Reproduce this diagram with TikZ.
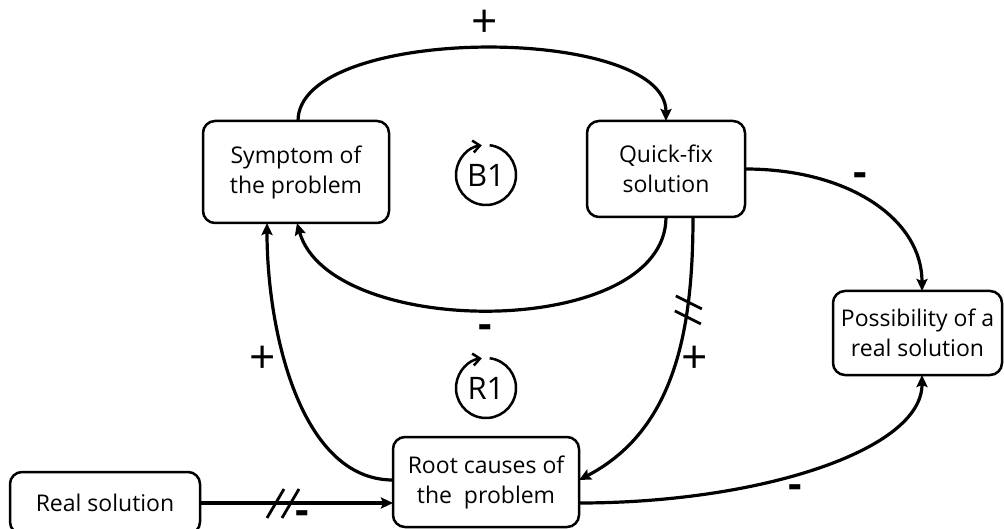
\documentclass[tikz,border=0pt]{standalone}
\usepackage{fontspec}
\setmainfont{Open Sans}
\usetikzlibrary{arrows.meta,calc}

\tikzset{
  box/.style={draw, line width=2.5pt, rounded corners=12pt, align=center,
    inner sep=0pt, outer sep=0pt, font=\fontsize{23}{30}\selectfont},
  link/.style={line width=3.2pt, -{Stealth[length=12pt,width=11pt,inset=2pt]}},
  polarity/.style={inner sep=0pt, font=\fontsize{46}{46}\selectfont},
  negpolarity/.style={inner sep=0pt, font=\fontsize{42}{42}\selectfont\bfseries},
  loopsym/.style={circle, inner sep=0pt, outer sep=0pt, minimum size=60pt,
    font=\fontsize{31}{31}\selectfont},
  looparrow/.style={line width=2.5pt, -{Straight Barb[length=7pt,width=12pt]}},
  delay/.style={line width=2.8pt}
}

\begin{document}
\begin{tikzpicture}[x=1pt,y=-1pt]
  \useasboundingbox (0,0) rectangle (1004,529);

  % variables
  \node[box, minimum width=186pt, minimum height=102pt] (sym)  at (296,172)   {Symptom of\\the problem};
  \node[box, minimum width=158pt, minimum height=96pt]  (fix)  at (666,169)   {Quick-fix\\solution};
  \node[box, minimum width=169pt, minimum height=84pt]  (poss) at (917.5,333) {Possibility of a\\real solution};
  \node[box, minimum width=186pt, minimum height=90pt]  (root) at (486,482)   {Root causes of\\the\ \ problem};
  \node[box, minimum width=190pt, minimum height=62pt]  (real) at (105,503)   {Real solution};

  % loop markers
  \node[loopsym] (b1) at (486,175) {B1};
  \node[loopsym] (r1) at (486,388) {R1};
  \draw[looparrow] (b1.83) arc[start angle=83, end angle=-262, radius=30pt];
  \draw[looparrow] (r1.83) arc[start angle=83, end angle=-262, radius=30pt];

  % balancing loop
  \draw[link] ($(sym.north)+(2,0)$) .. controls (298,24) and (666,24) .. (fix.north);
  \draw[link] (fix.south) .. controls (666,340) and (330,340) .. ($(sym.south)+(1,0)$);

  % reinforcing loop
  \draw[link] ($(root.west)+(0,-2)$) .. controls (300,480) and (267,330) .. ($(sym.south)+(-29,0)$);
  \draw[link] ($(fix.south)+(27,0)$) .. controls (693,330) and (675,430) .. ($(root.east)+(0,-2)$)
    coordinate[pos=0.27] (d1);

  % effects on the real solution
  \draw[link] (fix.east) .. controls (850,169) and (922,220) .. ($(poss.north)+(4.5,0)$);
  \draw[link] ($(root.east)+(0,21)$) .. controls (760,503) and (922,450) .. ($(poss.south)+(4.5,0)$);
  \draw[link] (real.east) -- (root.west |- real.east) coordinate[pos=0.43] (d2);

  % delay marks
  \draw[delay] ($(d1)+(-12,-9)$) -- ($(d1)+(14,4)$);
  \draw[delay] ($(d1)+(-13,6)$) -- ($(d1)+(13,19)$);
  \draw[delay] ($(d2)+(-16,15)$) -- ($(d2)+(1,-14)$);
  \draw[delay] ($(d2)+(-1,15)$) -- ($(d2)+(16,-14)$);

  % polarities
  \node[polarity] (p1) at (485,24)  {+};
  \node[polarity] (p2) at (263,360) {+};
  \node[polarity] (p3) at (695,360) {+};
  \node[negpolarity] (m1) at (485,332) {-};
  \node[negpolarity] (m2) at (860,180) {-};
  \node[negpolarity] (m3) at (795,492) {-};
  \node[negpolarity] (m4) at (302,518) {-};
\end{tikzpicture}
\end{document}
